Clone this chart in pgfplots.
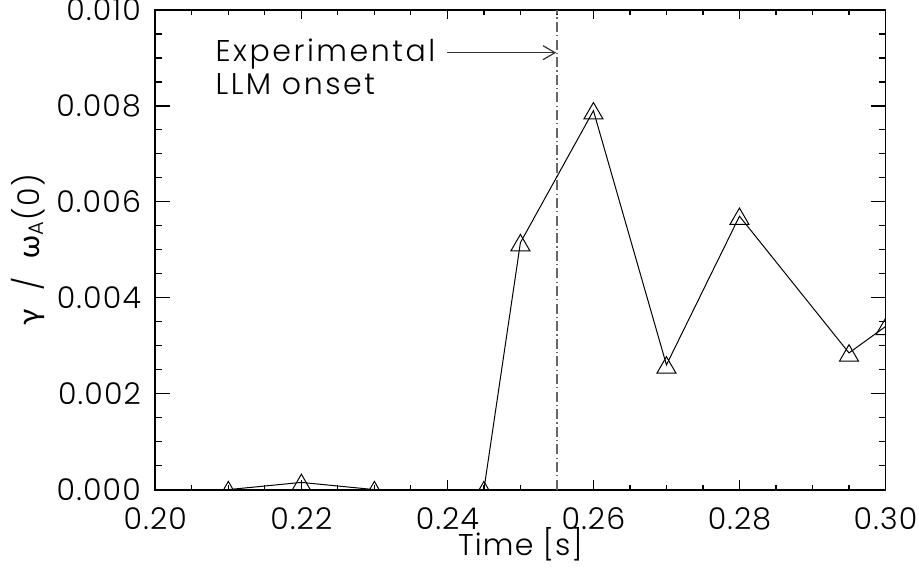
\documentclass[border=0pt]{standalone}
\usepackage{fontspec}
\setmainfont{Poppins}[UprightFont=* Light, LetterSpace=4]
\newfontfamily\annfont{Poppins}[UprightFont=* Light, LetterSpace=8.5]
\newfontfamily\greekfont{Lato}
\usepackage{pgfplots}
\pgfplotsset{compat=1.18}
\usetikzlibrary{arrows.meta}
\pgfdeclareplotmark{idltri}{%
  \pgfpathmoveto{\pgfqpoint{-4.75pt}{-4.1pt}}%
  \pgfpathlineto{\pgfqpoint{0pt}{4.1pt}}%
  \pgfpathlineto{\pgfqpoint{4.75pt}{-4.1pt}}%
  \pgfpathclose
  \pgfusepathqstroke}
\begin{document}
\fontsize{15}{18}\selectfont
\begin{tikzpicture}
\begin{axis}[
  scale only axis,
  width=365pt, height=239.75pt,
  xmin=0.2, xmax=0.3, ymin=0, ymax=0.010,
  xtick={0.20,0.22,0.24,0.26,0.28,0.30},
  ytick={0,0.002,0.004,0.006,0.008,0.010},
  minor x tick num=3, minor y tick num=3,
  scaled ticks=false,
  tick align=inside,
  major tick length=7.5pt, minor tick length=3.5pt,
  xtick style={/pgfplots/major tick length=4.6pt,/pgfplots/minor tick length=2.3pt},
  every tick/.style={black, line width=0.6pt},
  axis line style={line width=0.9pt},
  /pgf/number format/assume math mode=true,
  xticklabel style={/pgf/number format/.cd, fixed, fixed zerofill, precision=2, /tikz/.cd, yshift=-8pt, inner sep=1pt, font=\fontsize{15}{18}\selectfont},
  yticklabel style={/pgf/number format/.cd, fixed, fixed zerofill, precision=3, /tikz/.cd, xshift=-2pt, font=\fontsize{15}{18}\selectfont},
  xlabel={Time [s]},
  xlabel style={at={(axis description cs:0.5,-0.137)}, anchor=base, inner sep=0pt, font=\fontsize{15}{18}\selectfont},
  ylabel={{\greekfont γ}\ \ /\ \ {\greekfont ω}\textsubscript{A}(0)},
  ylabel style={at={(axis description cs:-0.1744,0.5)}, anchor=center, rotate=0, inner sep=0pt, font=\fontsize{15}{18}\selectfont},
  clip marker paths=true,
]
\addplot[black!60, line width=0.6pt, dash pattern=on 5pt off 1.6pt on 0.6pt off 1.6pt] coordinates {(0.255,0) (0.255,0.010)};
\addplot[black, line width=0.5pt, mark=idltri, mark options={solid, line width=0.5pt}] coordinates {
  (0.21,0) (0.22,0.00015) (0.23,0) (0.245,0) (0.25,0.00515) (0.26,0.0079)
  (0.27,0.0026) (0.28,0.0057) (0.295,0.00285) (0.30,0.0034)
};
\node[anchor=base west, inner sep=0pt] at (axis cs:0.2082,0.00892) {\annfont Experimental};
\node[anchor=base west, inner sep=0pt] at (axis cs:0.2082,0.00823) {\annfont LLM onset};
\draw[black!80, line width=0.6pt, -{Straight Barb[length=6pt,width=7pt]}] (axis cs:0.2400,0.00911) -- (axis cs:0.2549,0.00911);
\end{axis}
\pgfresetboundingbox
\path[use as bounding box] ([xshift=-77.65pt,yshift=-41.25pt]current axis.south west) rectangle ([xshift=16.75pt,yshift=5pt]current axis.north east);
\end{tikzpicture}
\end{document}
